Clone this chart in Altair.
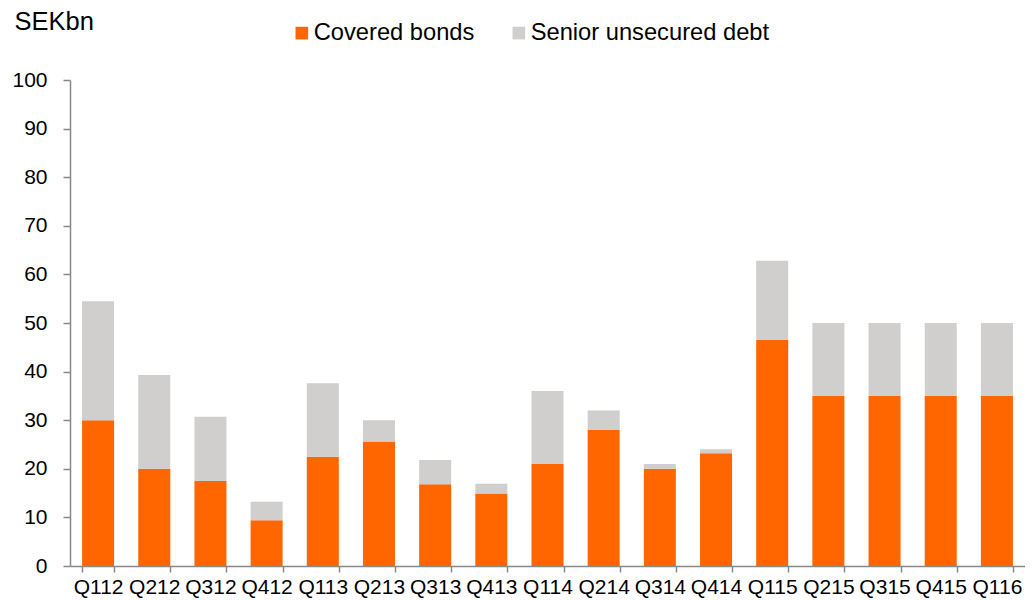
import altair as alt
import pandas as pd

quarters = ["Q112", "Q212", "Q312", "Q412", "Q113", "Q213", "Q313", "Q413",
            "Q114", "Q214", "Q314", "Q414", "Q115", "Q215", "Q315", "Q415", "Q116"]
covered = [30.0, 20.0, 17.5, 9.4, 22.5, 25.6, 16.8, 14.9,
           21.0, 28.0, 20.0, 23.2, 46.5, 35.0, 35.0, 35.0, 35.0]
senior = [24.5, 19.3, 13.2, 3.8, 15.1, 4.4, 5.0, 2.0,
          15.0, 4.0, 1.0, 0.8, 16.3, 15.0, 15.0, 15.0, 15.0]
series = ["Covered bonds", "Senior unsecured debt"]
colors = ["#FF6600", "#D0CFCD"]

rows = []
for q, c, s in zip(quarters, covered, senior):
    rows.append({"quarter": q, "series": series[0], "value": c, "ord": 0})
    rows.append({"quarter": q, "series": series[1], "value": s, "ord": 1})
df = pd.DataFrame(rows)

font = "Liberation Sans"
axis_grey = "#888888"

chart = alt.Chart(df).mark_bar().encode(
    x=alt.X("quarter:N", sort=quarters,
            scale=alt.Scale(paddingInner=0.43, paddingOuter=0.215),
            axis=alt.Axis(title=None, labelAngle=0, labelFontSize=21, labelFont=font,
                          labelColor="black", tickBand="extent", tickSize=6,
                          tickColor=axis_grey, tickWidth=1.5, domainColor=axis_grey,
                          domainWidth=1.5, labelPadding=4, labelLimit=200)),
    y=alt.Y("value:Q", stack="zero",
            scale=alt.Scale(domain=[0, 100], nice=False),
            axis=alt.Axis(values=list(range(0, 101, 10)), grid=False,
                          labelFontSize=21, labelFont=font, labelColor="black",
                          tickSize=7, tickColor=axis_grey, tickWidth=1.5,
                          domainColor=axis_grey, domainWidth=1.5, labelPadding=16,
                          title="SEKbn", titleAngle=0, titleX=-56, titleY=-51,
                          titleAlign="left", titleBaseline="alphabetic",
                          titleFontSize=25.5, titleFontWeight="normal",
                          titleFont=font, titleColor="black")),
    color=alt.Color("series:N", sort=series,
                    scale=alt.Scale(domain=series, range=colors),
                    legend=alt.Legend(title=None, orient="none", direction="horizontal",
                                      legendX=220, legendY=-59, symbolType="square",
                                      symbolSize=160, symbolStrokeWidth=0,
                                      labelFontSize=23.7, labelFont=font,
                                      labelColor="black", labelOffset=0,
                                      labelLimit=500,
                                      columnPadding=32, padding=0)),
    order=alt.Order("ord:Q", sort="ascending"),
).properties(
    width=955, height=486,
    autosize=alt.AutoSizeParams(type="none"),
    padding={"left": 62, "top": 72, "right": 0, "bottom": 34},
).configure_view(stroke=None)

chart.save("out.html", embed_options={"renderer": "svg", "actions": False})
